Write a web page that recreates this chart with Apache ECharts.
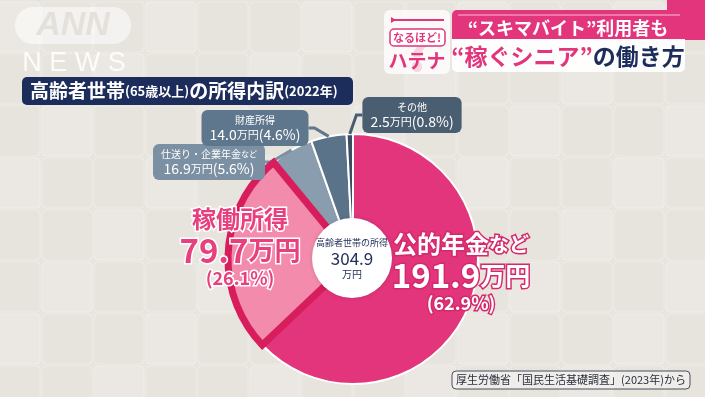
<!DOCTYPE html>
<html>
<head>
<meta charset="utf-8">
<script src="https://cdn.jsdelivr.net/npm/echarts@6/dist/echarts.min.js"></script>
<style>
html, body { margin: 0; padding: 0; background: #e8e4de; }
#chart { width: 705px; height: 397px; }
</style>
</head>
<body>
<div id="chart"></div>
<script>
// 高齢者世帯(65歳以上)の所得内訳 2022年
const categories = ['公的年金など', '稼働所得', '仕送り・企業年金など', '財産所得', 'その他']
const amounts = [191.9, 79.7, 16.9, 14.0, 2.5]
const shares = [62.9, 26.1, 5.6, 4.6, 0.8]
const totalAmount = 304.9

const sliceColors = ['#e2357b', '#f38bac', '#8a9daf', '#5b7389', '#3b4d61']
const calloutColors = ['', '', '#7b90a2', '#5f778c', '#4a5e72']
const FONT = '"Noto Sans CJK JP", "Noto Sans", sans-serif'

function splitNado(name) {
	// "など" is set smaller on the graphic
	if (name.endsWith('など')) {
		return [name.slice(0, -2), 'など']
	}
	return [name, '']
}

function labelFor(i) {
	const [head, tail] = splitNado(categories[i])
	const amt = amounts[i].toFixed(1)
	const pct = '(' + shares[i].toFixed(1) + '%)'
	if (i === 0) {
		return '{an|' + head + '}{as|' + tail + '}\n{av|' + amt + '}{au|万円}\n{ap|' + pct + '}'
	}
	if (i === 1) {
		return '{kn|' + head + '}\n{kv|' + amt + '}{ku|万円}\n{kp|' + pct + '}'
	}
	return '{cn|' + head + '}{cs|' + tail + '}\n{cv|' + amt + '}{cu|万円}{cv|' + pct + '}'
}

const whiteBig = { color: '#fff', textBorderColor: '#d4296b', textBorderWidth: 3, fontFamily: FONT, fontWeight: 'bold' }
const pinkBig = { color: '#e8407e', textBorderColor: '#fff', textBorderWidth: 3, fontFamily: FONT, fontWeight: 'bold' }
const richStyles = {
	an: Object.assign({ fontSize: 24, lineHeight: 30 }, whiteBig),
	as: Object.assign({ fontSize: 20, lineHeight: 30 }, whiteBig),
	av: Object.assign({ fontSize: 33, lineHeight: 32 }, whiteBig),
	au: Object.assign({ fontSize: 25, lineHeight: 32 }, whiteBig),
	ap: Object.assign({ fontSize: 18, lineHeight: 24 }, whiteBig),
	kn: Object.assign({ fontSize: 24, lineHeight: 30 }, pinkBig),
	kv: Object.assign({ fontSize: 33, lineHeight: 32 }, pinkBig),
	ku: Object.assign({ fontSize: 26, lineHeight: 32 }, pinkBig),
	kp: Object.assign({ fontSize: 18, lineHeight: 24 }, pinkBig),
	cn: { color: '#fff', fontSize: 10, lineHeight: 14, fontFamily: FONT },
	cs: { color: '#fff', fontSize: 8, lineHeight: 14, fontFamily: FONT },
	cv: { color: '#fff', fontSize: 14, lineHeight: 16, fontFamily: FONT },
	cu: { color: '#fff', fontSize: 11, lineHeight: 16, fontFamily: FONT }
}

// label spots (centre of each label block)
const labelSpots = [[461, 272], [240, 247], [209, 162], [255, 128], [412, 115]]

const chart = echarts.init(document.getElementById('chart'))

const baseData = categories.map((name, i) => ({
	name: name,
	value: amounts[i],
	itemStyle: { color: sliceColors[i] }
}))

const topData = categories.map((name, i) => {
	const item = {
		name: name,
		value: amounts[i],
		itemStyle: { color: 'rgba(0,0,0,0)', borderWidth: 0 },
		label: { formatter: labelFor(i) },
		labelLine: { show: false }
	}
	if (i === 1) {
		item.itemStyle = { color: sliceColors[1], borderColor: '#d81d5c', borderWidth: 7, borderJoin: 'miter' }
	}
	if (i >= 2) {
		item.label = {
			formatter: labelFor(i),
			backgroundColor: calloutColors[i],
			borderRadius: 6,
			padding: [3, 8, 3, 8],
			align: 'center'
		}
		item.labelLine = { show: true, length: 6, length2: 6, lineStyle: { color: calloutColors[i], width: 3 } }
	}
	return item
})

// soft cube backdrop
const tiles = []
for (let r = 0; r < 8; r++) {
	for (let c = 0; c < 14; c++) {
		tiles.push({
			type: 'rect',
			silent: true,
			z: -10,
			shape: { x: c * 52 - 10, y: r * 52 + 2, width: 50, height: 50, r: 4 },
			style: { fill: (r + c) % 3 === 0 ? '#ebe8e3' : '#e7e3dd', stroke: 'rgba(255,255,255,0.3)', lineWidth: 1 }
		})
	}
}

const option = {
	backgroundColor: '#e8e4de',
	animation: false,
	graphic: tiles.concat([
		// ANN NEWS watermark
		{ type: 'rect', shape: { x: 15, y: 7, width: 116, height: 37, r: 18 }, style: { fill: 'rgba(255,255,255,0.55)' } },
		{ type: 'text', x: 73, y: 26, style: { text: 'ANN', fill: '#e4e0da', font: 'italic bold 34px "Liberation Sans", Arial', align: 'center', verticalAlign: 'middle' } },
		{ type: 'text', x: 74, y: 64, style: { text: 'N E W S', fill: 'rgba(255,255,255,0.85)', font: '27px "Liberation Sans", Arial', align: 'center', verticalAlign: 'middle' } },
		// title bar
		{ type: 'rect', shape: { x: 22, y: 77, width: 331, height: 28, r: 5 }, style: { fill: '#1d2d5b' } },
		{
			type: 'text', x: 30, y: 91,
			style: {
				text: '{b|高齢者世帯}{s|(65歳以上)}{b|の所得内訳}{s|(2022年)}',
				verticalAlign: 'middle',
				rich: {
					b: { fill: '#fff', fontSize: 19, fontFamily: FONT, fontWeight: 'bold' },
					s: { fill: '#fff', fontSize: 13, fontFamily: FONT, fontWeight: 'bold' }
				}
			}
		},
		// なるほど!ハテナ logo
		{ type: 'rect', shape: { x: 384, y: 10, width: 66, height: 64, r: 6 }, style: { fill: 'rgba(255,255,255,0.78)' } },
		{ type: 'text', x: 418, y: 50, style: { text: '?', fill: 'rgba(226,53,123,0.18)', font: 'bold 56px ' + FONT, align: 'center', verticalAlign: 'middle' } },
		{ type: 'line', shape: { x1: 393, y1: 20, x2: 444, y2: 20 }, style: { stroke: '#e2357b', lineWidth: 2 } },
		{ type: 'polygon', shape: { points: [[391, 17], [396, 20], [391, 23]] }, style: { fill: '#e2357b' } },
		{ type: 'rect', shape: { x: 390, y: 29, width: 55, height: 17, r: 4 }, style: { fill: '#fff', stroke: '#e2357b', lineWidth: 1.5 } },
		{ type: 'text', x: 417, y: 38, style: { text: 'なるほど!', fill: '#e2357b', font: 'bold 11px ' + FONT, align: 'center', verticalAlign: 'middle' } },
		{ type: 'text', x: 417, y: 61, style: { text: 'ハテナ', fill: '#e2357b', font: 'bold 19px ' + FONT, align: 'center', verticalAlign: 'middle' } },
		// headline banner
		{ type: 'rect', shape: { x: 667, y: 0, width: 38, height: 40 }, style: { fill: '#e2357b' } },
		{ type: 'rect', shape: { x: 452, y: 10, width: 233, height: 29, r: [5, 5, 0, 0] }, style: { fill: '#e2357b' } },
		{ type: 'line', shape: { x1: 458, y1: 15, x2: 680, y2: 15 }, style: { stroke: 'rgba(255,255,255,0.45)', lineWidth: 1.5 } },
		{ type: 'text', x: 568, y: 28, style: { text: '“スキマバイト”利用者も', fill: '#fff', font: 'bold 18px ' + FONT, align: 'center', verticalAlign: 'middle' } },
		{ type: 'rect', shape: { x: 452, y: 39, width: 233, height: 33, r: [0, 0, 5, 5] }, style: { fill: 'rgba(255,255,255,0.93)' } },
		{
			type: 'text', x: 568, y: 56,
			style: {
				text: '{p|“稼ぐシニア”}{n|の働き方}',
				align: 'center', verticalAlign: 'middle',
				rich: {
					p: { fill: '#e2357b', fontSize: 23, fontFamily: FONT, fontWeight: 'bold' },
					n: { fill: '#1d2d5b', fontSize: 23, fontFamily: FONT, fontWeight: 'bold' }
				}
			}
		},
		// source
		{ type: 'rect', shape: { x: 452, y: 371, width: 238, height: 18, r: 4 }, style: { fill: 'rgba(255,255,255,0.35)', stroke: '#4b4f5c', lineWidth: 1 } },
		{ type: 'text', x: 571, y: 380, style: { text: '厚生労働省「国民生活基礎調査」(2023年)から', fill: '#2a2d3c', font: '11px ' + FONT, align: 'center', verticalAlign: 'middle' } }
	]),
	series: [
		{
			type: 'pie',
			center: [353, 259],
			radius: [0, 125],
			startAngle: 90,
			clockwise: true,
			silent: true,
			z: 2,
			itemStyle: { borderColor: '#fff', borderWidth: 2 },
			label: { show: false },
			labelLine: { show: false },
			data: baseData
		},
		{
			type: 'pie',
			center: [353, 259],
			radius: [0, 125],
			startAngle: 90,
			clockwise: true,
			silent: true,
			z: 3,
			label: {
				show: true,
				position: 'outside',
				align: 'center',
				rich: richStyles
			},
			labelLayout: function (params) {
				const spot = labelSpots[params.dataIndex]
				return { x: spot[0], y: spot[1], align: 'center', verticalAlign: 'middle' }
			},
			data: topData
		},
		{
			type: 'pie',
			center: [352, 258],
			radius: [0, 40],
			silent: true,
			z: 4,
			itemStyle: { color: '#fff', shadowBlur: 4, shadowColor: 'rgba(0,0,0,0.15)' },
			label: {
				show: true,
				position: 'center',
				formatter: '{s|{b}}\n{v|{c}}\n{u|万円}',
				rich: {
					s: { fontSize: 9, lineHeight: 14, color: '#24305a', fontFamily: FONT },
					v: { fontSize: 17, lineHeight: 18, color: '#24305a', fontFamily: FONT },
					u: { fontSize: 10, lineHeight: 13, color: '#24305a', fontFamily: FONT }
				}
			},
			labelLine: { show: false },
			data: [{ name: '高齢者世帯の所得', value: totalAmount }]
		}
	]
}

chart.setOption(option)
</script>
</body>
</html>
